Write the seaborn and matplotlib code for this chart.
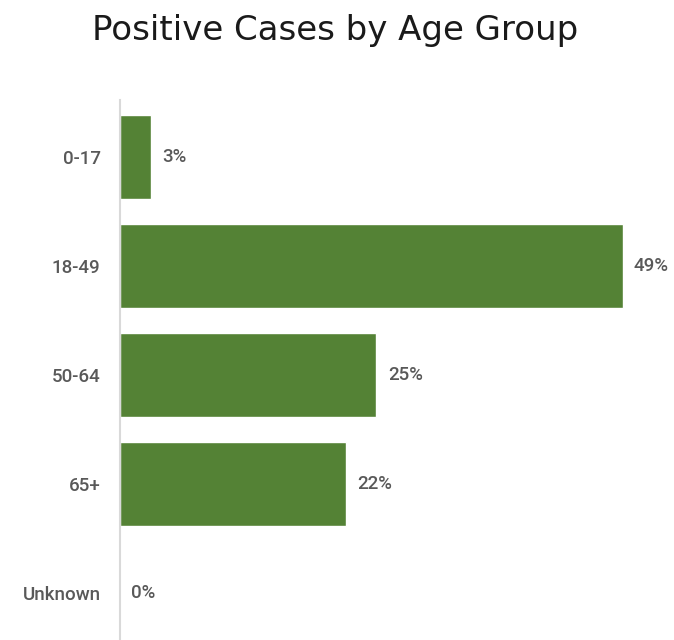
import pandas as pd
import matplotlib.pyplot as plt
import seaborn as sns

age_groups = ['0-17', '18-49', '50-64', '65+', 'Unknown']
pct_cases = [3, 49, 25, 22, 0]

df = pd.DataFrame({'age_group': age_groups, 'pct': pct_cases})

sns.set_style('white')
plt.rcParams['font.family'] = ['Roboto', 'DejaVu Sans']

fig = plt.figure(figsize=(6.74, 6.4), dpi=100)
ax = fig.add_axes([0.178, 0.0, 0.822, 0.844])

sns.barplot(x='pct', y='age_group', data=df, color='#548235', saturation=1,
            width=0.77, ax=ax)

# value labels next to each bar
for i, v in enumerate(pct_cases):
    ax.text(v + 1.1, i, f'{v}%', va='center', ha='left', fontsize=13.5,
            fontweight='medium', color='#595959')

ax.set_xlim(0, 54)
ax.set_ylim(4.43, -0.52)
ax.set_xlabel('')
ax.set_ylabel('')
ax.set_xticks([])
ax.tick_params(axis='y', length=0, pad=14, labelsize=13.5, labelcolor='#595959')
for lbl in ax.get_yticklabels():
    lbl.set_fontweight('medium')

for s in ['top', 'right', 'bottom']:
    ax.spines[s].set_visible(False)
ax.spines['left'].set_color('#d9d9d9')
ax.spines['left'].set_linewidth(1.5)

fig.text(0.497, 0.952, 'Positive Cases by Age Group', ha='center', va='center',
         fontsize=24.5, color='#1a1a1a', family=['DejaVu Sans'])

fig.savefig('out.png', dpi=100)
